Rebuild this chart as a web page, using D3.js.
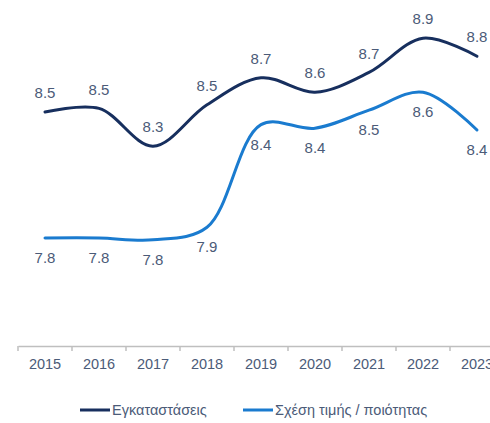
<!DOCTYPE html>
<html>
<head>
<meta charset="utf-8">
<script src="https://cdn.jsdelivr.net/npm/d3@7"></script>
<style>
  body { margin: 0; background: #fff; }
  svg { display: block; font-family: "Liberation Sans", Arial, sans-serif; }
</style>
</head>
<body>
<div id="chart"></div>
<script>
// Data
const years = ['2015', '2016', '2017', '2018', '2019', '2020', '2021', '2022', '2023'];
const installations = [8.50, 8.52, 8.31, 8.54, 8.69, 8.61, 8.72, 8.91, 8.81];
const priceQuality = [7.80, 7.80, 7.79, 7.86, 8.43, 8.41, 8.51, 8.61, 8.40];
const seriesNames = ['Εγκαταστάσεις', 'Σχέση τιμής / ποιότητας'];
const seriesColors = ['#172f5e', '#1a7bcf'];

const width = 490;
const height = 423;
const textColor = '#4b5b78';

const svg = d3.select('#chart')
    .append('svg')
    .attr('width', width)
    .attr('height', height);

const x = d3.scaleBand()
    .domain(years)
    .range([18, 504])
    .padding(0);

const y = d3.scaleLinear()
    .domain([7.8, 8.5])
    .range([238, 112]);

const axisY = 346;

// x axis: baseline, boundary ticks, year labels
const axis = svg.append('g')
    .attr('transform', `translate(0,${axisY})`)
    .call(d3.axisBottom(x).tickSize(0).tickPadding(13));
axis.select('.domain').attr('stroke', '#bfbfbf').attr('stroke-width', 1.5);
axis.selectAll('text')
    .attr('fill', textColor)
    .attr('font-size', 14.5)
    .attr('font-family', '"Liberation Sans", Arial, sans-serif');

axis.selectAll('.bound')
    .data(years.concat(['end']))
    .enter()
    .append('line')
    .attr('class', 'bound')
    .attr('x1', (d, i) => x.range()[0] + i * x.step())
    .attr('x2', (d, i) => x.range()[0] + i * x.step())
    .attr('y1', 0)
    .attr('y2', 5)
    .attr('stroke', '#bfbfbf')
    .attr('stroke-width', 1.5);

const line = d3.line()
    .x((d, i) => x(years[i]) + x.bandwidth() / 2)
    .y(d => y(d))
    .curve(d3.curveCatmullRom.alpha(0.5));

const series = [
    { name: seriesNames[0], values: installations, color: seriesColors[0], dy: -19 },
    { name: seriesNames[1], values: priceQuality, color: seriesColors[1], dy: 20 }
];

series.forEach(s => {
    svg.append('path')
        .datum(s.values)
        .attr('fill', 'none')
        .attr('stroke', s.color)
        .attr('stroke-width', 3)
        .attr('stroke-linecap', 'round')
        .attr('d', line);

    svg.append('g')
        .selectAll('text')
        .data(s.values)
        .enter()
        .append('text')
        .attr('x', (d, i) => x(years[i]) + x.bandwidth() / 2)
        .attr('y', d => y(d) + s.dy)
        .attr('dy', '0.35em')
        .attr('text-anchor', 'middle')
        .attr('fill', textColor)
        .attr('font-size', 15)
        .text(d => d.toFixed(1));
});

// legend
const legend = svg.append('g').attr('transform', 'translate(0,410)');
const legendX = [80, 243];
series.forEach((s, i) => {
    legend.append('line')
        .attr('x1', legendX[i])
        .attr('x2', legendX[i] + 30)
        .attr('stroke', s.color)
        .attr('stroke-width', 3);
    legend.append('text')
        .attr('x', legendX[i] + 32)
        .attr('dy', '0.35em')
        .attr('fill', textColor)
        .attr('font-size', 14.5)
        .text(s.name);
});
</script>
</body>
</html>
